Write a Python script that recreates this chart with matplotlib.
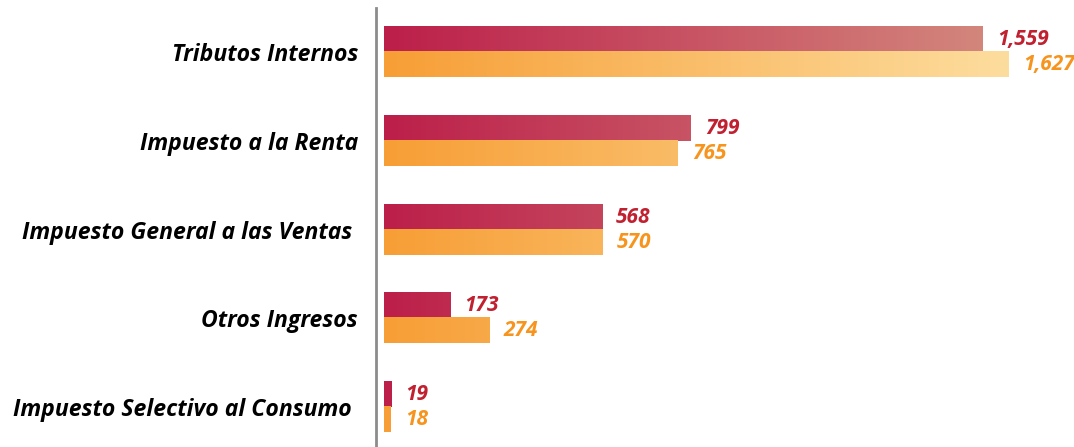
import numpy as np
import matplotlib
matplotlib.use("Agg")
import matplotlib.pyplot as plt
from matplotlib.colors import LinearSegmentedColormap

categories = ["Tributos Internos", "Impuesto a la Renta", "Impuesto General a las Ventas ",
              "Otros Ingresos", "Impuesto Selectivo al Consumo "]
serie_a = [1559, 799, 568, 173, 19]
serie_b = [1627, 765, 570, 274, 18]
labels_a = ["1,559", "799", "568", "173", "19"]
labels_b = ["1,627", "765", "570", "274", "18"]

cmap_a = LinearSegmentedColormap.from_list("a", ["#BC1F4A", "#D48A7E"])
cmap_b = LinearSegmentedColormap.from_list("b", ["#F79E36", "#FDDD9E"])
col_a_txt = "#C0202F"
col_b_txt = "#F7941D"

plt.rcParams['font.family'] = ['Open Sans', 'DejaVu Sans']

fig = plt.figure(figsize=(10.74, 4.47), dpi=100)
ax = fig.add_axes([376/1074, 0, 1 - 376/1074, 439/447])

xmax_grad = max(max(serie_a), max(serie_b))
px_per_unit = (1009 - 384) / 1627.0
x_left = -8 / px_per_unit
x_right = x_left + (1074 - 376) / px_per_unit

h = 0.282
y = np.arange(len(categories))

def draw(vals, offs, cmap, labels, tcol):
    bars = ax.barh(y + offs, vals, height=h, color='none', edgecolor='none')
    for b, v, lab in zip(bars, vals, labels):
        y0 = b.get_y()
        frac = v / xmax_grad
        g = np.linspace(0, frac, 256).reshape(1, -1)
        ax.imshow(g, cmap=cmap, vmin=0, vmax=1, extent=[0, v, y0 + h, y0],
                  aspect='auto', interpolation='bilinear', zorder=2)
        ax.annotate(lab, xy=(v, y0 + h / 2), xytext=(14, 0), textcoords='offset pixels',
                    va='center', ha='left', fontsize=15, fontweight='bold',
                    fontstyle='italic', color=tcol)

draw(serie_a, -h / 2, cmap_a, labels_a, col_a_txt)
draw(serie_b, h / 2, cmap_b, labels_b, col_b_txt)

ax.set_xlim(x_left, x_right)
ax.set_ylim(4.45, -0.5)

for s in ['top', 'right', 'bottom']:
    ax.spines[s].set_visible(False)
ax.spines['left'].set_color('#8C8C8C')
ax.spines['left'].set_linewidth(2)
ax.set_xticks([])
ax.set_yticks(y)
ax.set_yticklabels(categories, fontsize=16.6, fontweight='bold', fontstyle='italic')
ax.tick_params(axis='y', length=0, pad=13)

fig.savefig("out.png", dpi=100)
